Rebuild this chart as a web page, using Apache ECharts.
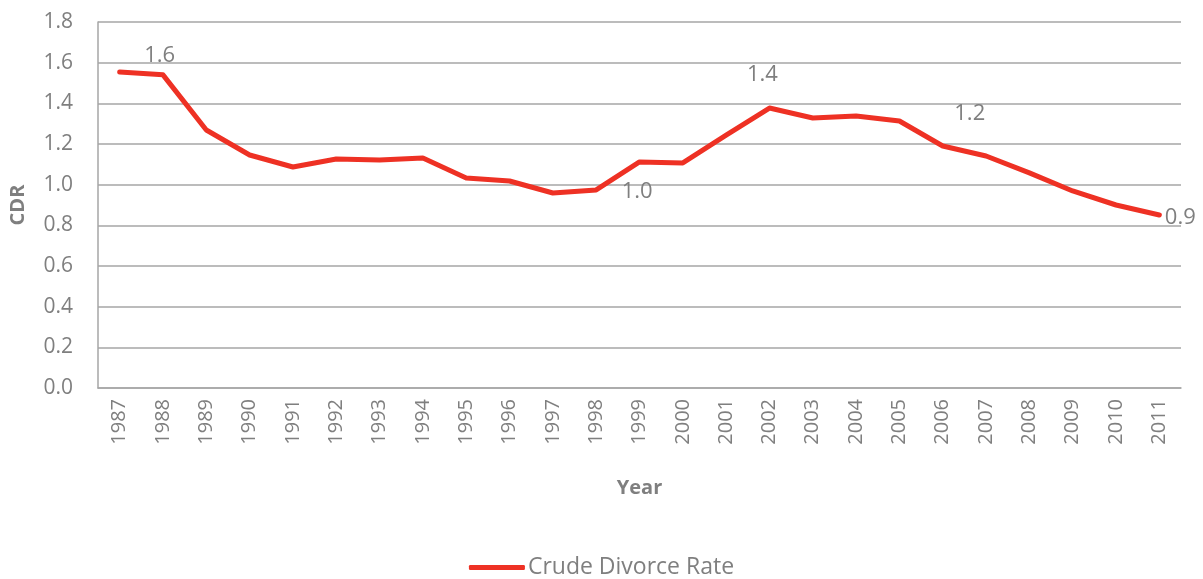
<!DOCTYPE html>
<html>
<head>
<meta charset="utf-8">
<script src="https://cdn.jsdelivr.net/npm/echarts@6/dist/echarts.min.js"></script>
<style>html,body{margin:0;padding:0;background:#fff}#c{width:1203px;height:579px}</style>
</head>
<body>
<div id="c"></div>
<script>
const years = ['1987','1988','1989','1990','1991','1992','1993','1994','1995','1996','1997','1998','1999','2000','2001','2002','2003','2004','2005','2006','2007','2008','2009','2010','2011'];
const cdr = [1.554,1.540,1.269,1.146,1.087,1.126,1.121,1.131,1.033,1.018,0.959,0.974,1.112,1.107,1.244,1.377,1.328,1.338,1.313,1.190,1.141,1.058,0.969,0.900,0.851];
const yTicks = [0,0.2,0.4,0.6,0.8,1.0,1.2,1.4,1.6,1.8];
// which points carry a data label (labels were moved off their points in the original)
const labelled = {0:'top', 11:'top', 15:'top', 19:'top', 24:'right'};
const labelOffsets = {0:[40,0], 11:[41,18], 15:[-7,-17], 19:[27,-16], 24:[0,3]};

const FONT = '"Open Sans", "Liberation Sans", sans-serif';
const GRAY = '#7f7f7f';

const seriesData = cdr.map((v, i) => {
  const d = { value: v };
  if (labelled[i] !== undefined) {
    d.label = { show: true, position: labelled[i], offset: labelOffsets[i] };
  }
  return d;
});

const chart = echarts.init(document.getElementById('c'), null, {renderer: 'canvas'});
chart.setOption({
  animation: false,
  textStyle: { fontFamily: FONT },
  grid: { left: 98, right: 22, top: 22, bottom: 191, containLabel: false },
  legend: {
    bottom: -5, left: 'center',
    data: ['Crude Divorce Rate'],
    icon: 'roundRect', itemWidth: 56, itemHeight: 5, itemGap: 4,
    textStyle: { color: GRAY, fontSize: 23, fontFamily: FONT, padding: [0,0,0,-2] }
  },
  xAxis: {
    type: 'category', data: years, boundaryGap: true,
    name: 'Year', nameLocation: 'middle', nameGap: 90,
    nameTextStyle: { color: GRAY, fontSize: 20, fontWeight: 'bold', fontFamily: FONT },
    axisLine: { show: true, lineStyle: { color: '#a6a6a6', width: 1.5 } },
    axisTick: { show: false },
    axisLabel: { rotate: 90, color: GRAY, fontSize: 20, margin: 11, interval: 0, fontFamily: FONT }
  },
  yAxis: {
    type: 'value', min: 0, max: 1.8, interval: 0.2,
    name: 'CDR', nameLocation: 'middle', nameGap: 70, nameRotate: 90,
    nameTextStyle: { color: GRAY, fontSize: 20, fontWeight: 'bold', fontFamily: FONT },
    axisLine: { show: true, lineStyle: { color: '#a6a6a6', width: 1.5 } },
    axisTick: { show: false },
    axisLabel: { color: GRAY, fontSize: 21, margin: 25, fontFamily: FONT,
      formatter: v => { const t = yTicks.find(x => Math.abs(x - v) < 1e-9); return (t !== undefined ? t : v).toFixed(1); } },
    splitLine: { show: true, lineStyle: { color: '#a6a6a6', width: 1.5 } }
  },
  series: [{
    name: 'Crude Divorce Rate', type: 'line', data: seriesData,
    symbol: 'circle', symbolSize: 1, showSymbol: true,
    lineStyle: { color: '#ee3124', width: 5, cap: 'round', join: 'round' },
    itemStyle: { color: '#ee3124' },
    label: { show: false, color: GRAY, fontSize: 22, fontFamily: FONT,
      formatter: p => p.value.toFixed(1) }
  }]
});
</script>
</body>
</html>
